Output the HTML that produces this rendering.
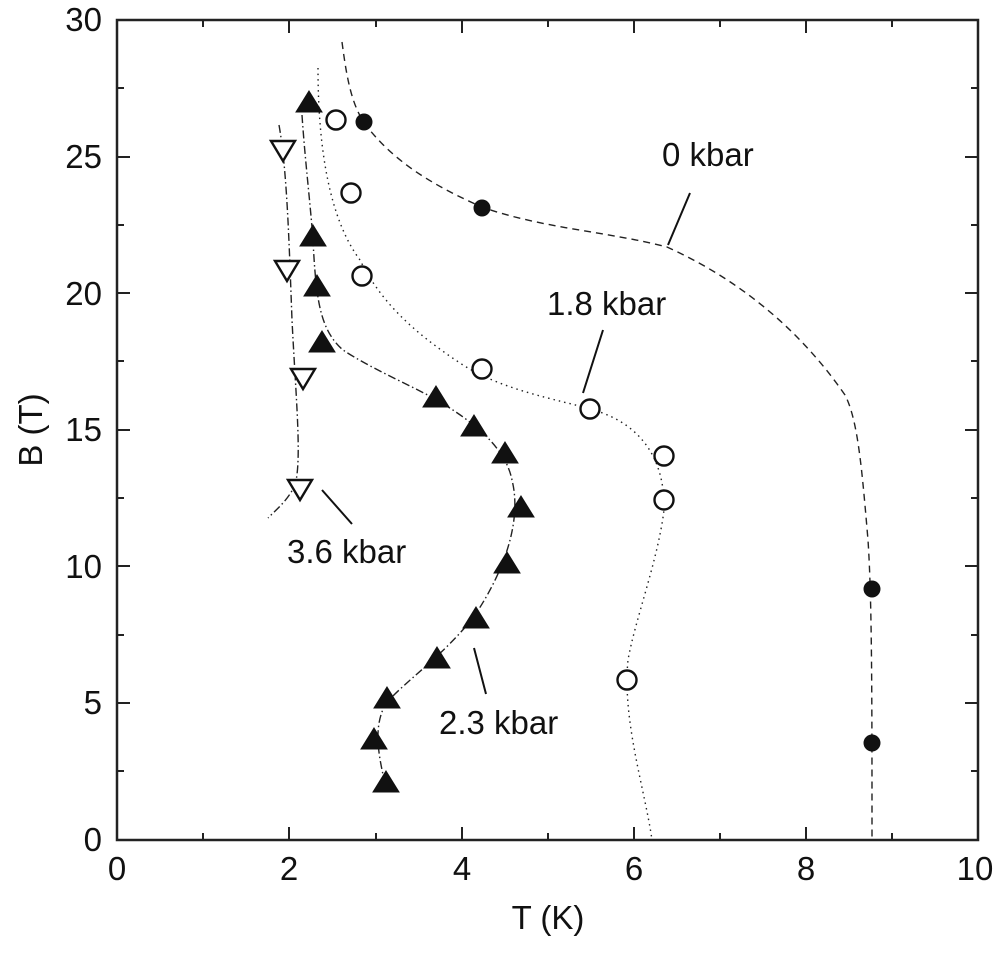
<!DOCTYPE html>
<html><head><style>body{margin:0;background:#fff}</style></head><body>
<svg width="1000" height="952" xmlns="http://www.w3.org/2000/svg" font-family="Liberation Sans, Arial, sans-serif">
<rect width="1000" height="952" fill="#fff"/>
<g stroke="#222" stroke-width="2.5" fill="none">
<rect x="117" y="20" width="861" height="820"/>
</g>
<g stroke="#222" stroke-width="2">
<path d="M289,840v-13M462,840v-13M634,840v-13M806,840v-13M289,20v13M462,20v13M634,20v13M806,20v13"/>
<path d="M203,840v-7M376,840v-7M548,840v-7M720,840v-7M892,840v-7M203,20v7M376,20v7M548,20v7M720,20v7M892,20v7"/>
<path d="M117,703h13M117,566h13M117,430h13M117,293h13M117,157h13M978,703h-13M978,566h-13M978,430h-13M978,293h-13M978,157h-13"/>
<path d="M117,771h7M117,635h7M117,498h7M117,361h7M117,225h7M117,88h7M978,771h-7M978,635h-7M978,498h-7M978,361h-7M978,225h-7M978,88h-7"/>
</g>
<g font-size="33" fill="#111" text-anchor="middle">
<text x="117" y="880">0</text><text x="289" y="880">2</text><text x="462" y="880">4</text><text x="634" y="880">6</text><text x="806" y="880">8</text><text x="975" y="880">10</text>
</g>
<g font-size="33" fill="#111" text-anchor="end">
<text x="102" y="851">0</text><text x="102" y="714">5</text><text x="102" y="578">10</text><text x="102" y="441">15</text><text x="102" y="305">20</text><text x="102" y="168">25</text><text x="102" y="31">30</text>
</g>
<text x="548" y="929" font-size="33" text-anchor="middle" fill="#111">T (K)</text>
<text transform="translate(42,430) rotate(-90)" font-size="33" text-anchor="middle" fill="#111">B (T)</text>
<g fill="none" stroke="#222" stroke-width="1.4">
<path stroke-dasharray="7,5" d="M342,42 C347,80 352,108 368,128 C390,155 420,180 482,207 C540,228 610,232 667,247 C740,280 800,330 845,395 C858,420 862,470 868,540 C872,600 872,700 872,840"/>
<path stroke-dasharray="1.5,4" d="M318,68 C318,150 330,220 360,260 C380,300 410,330 460,363 C500,390 560,400 590,409 C650,425 665,470 664,510 C658,560 635,620 628,660 C622,720 645,790 652,840"/>
<path stroke-dasharray="8,3,1.5,3" d="M302,115 C305,160 310,200 313,240 C316,300 320,330 343,350 C370,368 410,385 437,400 C470,420 505,445 512,480 C522,520 505,570 475,615 C445,655 400,685 385,705 C372,730 380,760 385,784"/>
<path stroke-dasharray="8,3,1.5,3" d="M279,125 C287,170 289,240 292,320 C296,400 302,460 295,485 C288,500 278,508 268,518"/>
</g>
<g fill="#111">
<circle cx="364" cy="122" r="8.5"/><circle cx="482" cy="208" r="8.5"/><circle cx="872" cy="589" r="8.5"/><circle cx="872" cy="743" r="8.5"/>
</g>
<g fill="#fff" stroke="#111" stroke-width="2.4">
<circle cx="336" cy="120" r="9.5"/><circle cx="351" cy="193" r="9.5"/><circle cx="362" cy="276" r="9.5"/><circle cx="482" cy="369" r="9.5"/><circle cx="590" cy="409" r="9.5"/><circle cx="664" cy="456" r="9.5"/><circle cx="664" cy="500" r="9.5"/><circle cx="627" cy="680" r="9.5"/>
</g>
<g fill="#111" stroke="#111" stroke-width="1">
<path d="M309,91l13,21h-26z"/><path d="M313,225l13,21h-26z"/><path d="M317,275l13,21h-26z"/><path d="M322,331l13,21h-26z"/><path d="M436,386l13,21h-26z"/><path d="M474,415l13,21h-26z"/><path d="M505,442l13,21h-26z"/><path d="M521,496l13,21h-26z"/><path d="M507,552l13,21h-26z"/><path d="M476,607l13,21h-26z"/><path d="M437,647l13,21h-26z"/><path d="M387,687l13,21h-26z"/><path d="M374,728l13,21h-26z"/><path d="M386,771l13,21h-26z"/>
</g>
<g fill="#fff" stroke="#111" stroke-width="2.4">
<path d="M283,161l-12,-20h24z"/><path d="M287,281l-12,-20h24z"/><path d="M303,389l-12,-20h24z"/><path d="M300,500l-12,-20h24z"/>
</g>
<g stroke="#111" stroke-width="2">
<path d="M690,193L668,245M603,330L583,393M352,524L322,490M486,694L474,648"/>
</g>
<g font-size="33" fill="#111">
<text x="662" y="166">0 kbar</text><text x="547" y="315">1.8 kbar</text><text x="287" y="563">3.6 kbar</text><text x="439" y="734">2.3 kbar</text>
</g>
</svg>
</body></html>
